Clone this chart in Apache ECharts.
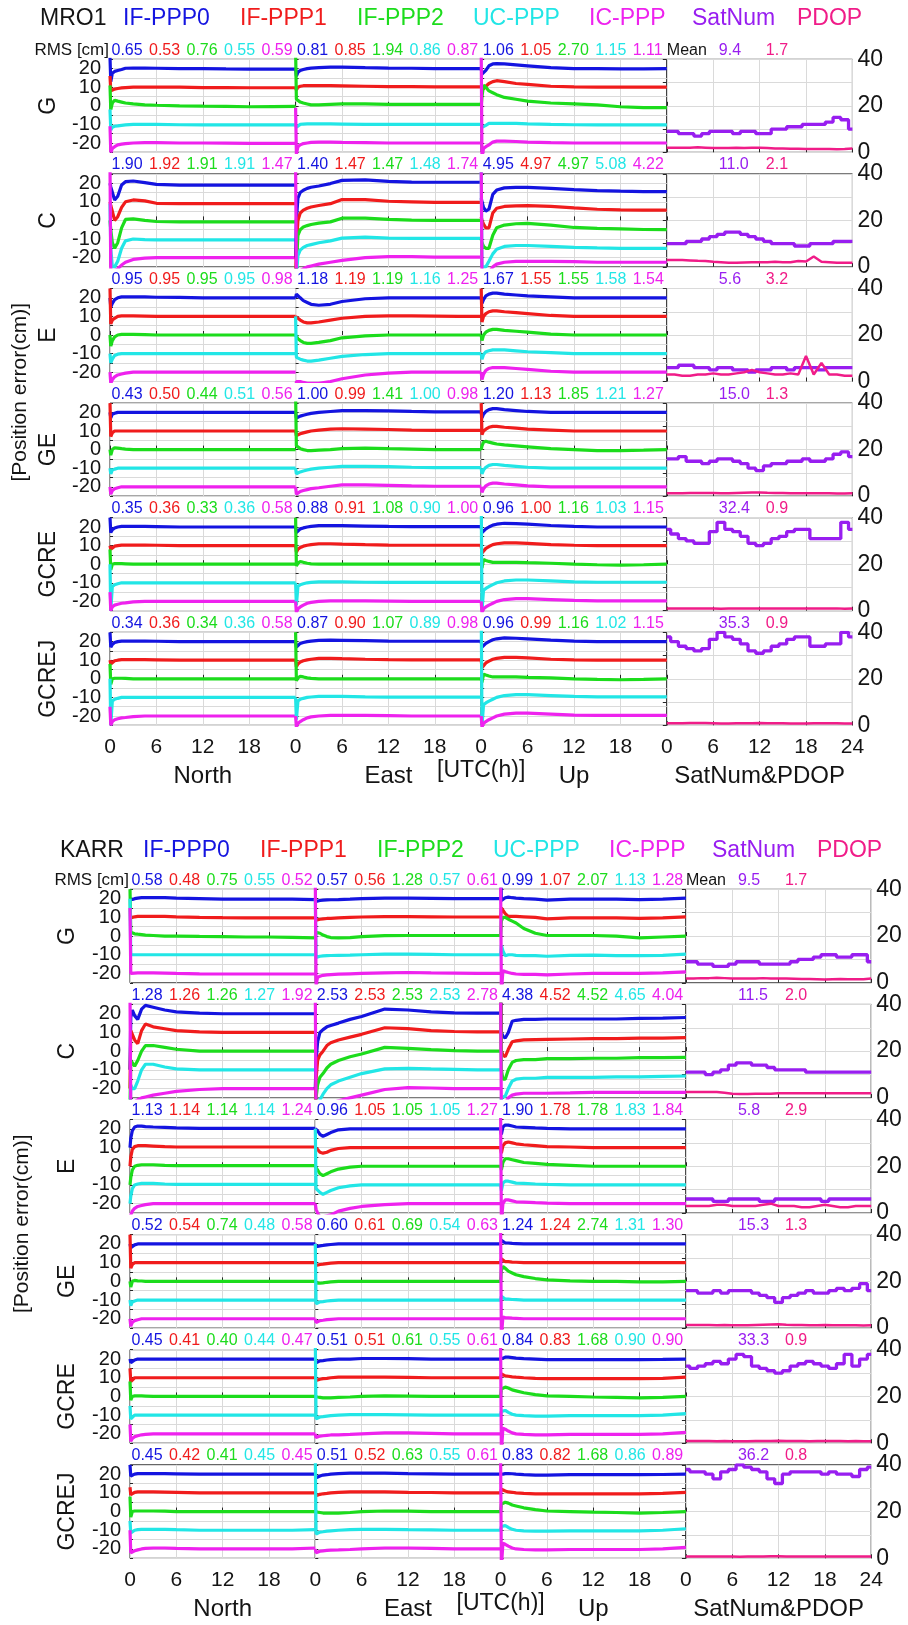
<!DOCTYPE html>
<html><head><meta charset="utf-8">
<script src="https://cdn.jsdelivr.net/npm/echarts@6/dist/echarts.min.js"></script>
<style>html,body{margin:0;padding:0;background:#fff}#c{width:908px;height:1625px}</style>
</head><body><div id="c"></div>
<script>
// ---------- shared axes / categories ----------
const T = [0,0.1,0.3,0.6,1,1.5,2,3,4.5,6,9,12,15,18,21,24];           // hours for error curves
const HOURS = [0,1,2,3,4,5,6,7,8,9,10,11,12,13,14,15,16,17,18,19,20,21,22,23,24];
const OFFSETS = [20,10,0,-10,-20];                                    // display shift of each method
const METHODS = ['IF-PPP0','IF-PPP1','IF-PPP2','UC-PPP','IC-PPP'];
const ROWS = ['G','C','E','GE','GCRE','GCREJ'];
const COMPONENTS = ['North','East','Up','SatNum&PDOP'];
const X_TICKS = [0,6,12,18,24];
const Y_TICKS = [-20,-10,0,10,20];
const SAT_TICKS = [0,20,40];

// ---------- MRO1 position errors (cm), lines: IF-PPP0, IF-PPP1, IF-PPP2, UC-PPP, IC-PPP ----------
const MRO1_G_N = [
 [6,-7,-2.5,-1.5,-1,-0.5,0.2,0.3,0.3,0.2,0,0,-0.2,-0.3,-0.3,-0.3],
 [6,-2,-1.5,-1,-0.7,-0.4,-0.2,0,0,0,0,-0.2,-0.2,-0.3,-0.3,-0.3],
 [11,-2,1.5,3,2.5,2,1.5,1,0.5,0.3,0,-0.2,-0.3,-0.5,-0.4,-0.3],
 [8,-3,-1.5,-1,-0.8,-0.5,-0.3,0,0,0,-0.2,-0.3,-0.3,-0.3,-0.3,-0.3],
 [9,-5,-3,-2,-1,-0.6,-0.3,0,0.2,0.2,0,0,-0.1,-0.2,-0.2,-0.2]];
const MRO1_G_E = [
 [0,-4,-2,-1,-0.5,0,0.3,0.5,0.8,0.8,0.5,0.3,0.2,0,0,0],
 [0,-1.5,0,0.5,0.8,0.8,0.8,0.8,0.8,0.7,0.5,0.3,0.3,0.2,0.2,0.2],
 [30,3.5,3,2,1.5,1,0.5,0.5,0.8,1,1,0.8,0.8,0.8,0.8,0.8],
 [0,-1.5,-0.5,0,0.2,0.3,0.3,0.3,0.3,0.2,0,0,0,0,0,0],
 [19,-6,-2,-1,-0.3,0,0.3,0.5,0.5,0.3,0.2,0,0,0,0,0]];
const MRO1_G_U = [
 [0,-3,-4,-1,1.5,2.5,2.7,2.5,2,1.5,0.5,0,0,-0.2,-0.1,0],
 [0,1,-1,0.5,2,3,3.5,3,2,1.5,0.5,0.2,0,0,0,0],
 [0,5,11,10,8,7,6,4.5,3.5,2.5,1.5,1,0.5,-0.5,-1,-1],
 [0,-1.5,-2,-0.5,0.5,0.5,0.5,0.5,0.5,0.3,0,-0.2,-0.3,-0.3,-0.3,-0.3],
 [50,-8,-3,-2,-1,0.5,1,1,0.8,0.5,0.2,0,0,0,0,0]];
const MRO1_C_N = [
 [0,-2,-3,-9,-7,-1,0.8,1.2,0.3,-0.6,-1,-1,-1,-1,-1,-1],
 [0,-2,-5,-10,-8,-3,0,1,0.5,-0.8,-1,-1,-1,-1,-1,-1],
 [0,-5,-12,-15,-12,-4,0.5,0.8,0,-0.6,-0.8,-0.8,-0.8,-0.8,-0.8,-0.8],
 [19,-5,-15,-15,-12,-5,-1,0,-0.3,-0.5,-0.5,-0.5,-0.5,-0.5,-0.5,-0.5],
 [50,-10,-8,-7,-6,-4,-2.5,-1,-0.3,0,0,0,0,0,0,0]];
const MRO1_C_E = [
 [-40,-20,-8,-5,-3.8,-2.8,-2.2,-1.5,-0.2,1.5,1.8,1,0.6,0.5,0.5,0.5],
 [-40,-25,-10,-6,-4.5,-3.5,-2.8,-2,-1,1.2,1.2,0.3,0,-0.3,-0.3,-0.3],
 [-40,-25,-8,-5,-3.5,-2.8,-2.2,-1.5,-0.8,1.2,1.2,0.5,0.2,0,0,0],
 [-40,-20,-9,-6,-4.5,-3.5,-3,-2,-1,0.5,1,0.5,0.3,0.3,0.3,0.3],
 [50,-10,-8,-7,-6,-5,-4.5,-3.5,-2.5,-1.5,0,0.5,0.5,0.3,0.3,0.3]];
const MRO1_C_U = [
 [-8,-10,-13,-15,-14,-6,-3.7,-2.5,-2.2,-2.2,-2.8,-3.5,-4,-4.3,-4.5,-4.5],
 [-8,-10,-12,-14,-14,-6,-3.5,-2.5,-2.2,-2.1,-2.5,-3.3,-4,-4.3,-4.5,-4.5],
 [-10,-12,-14,-15,-15,-8,-4,-2.5,-1.8,-1.6,-2.5,-3.8,-4.3,-4.6,-4.9,-5],
 [40,-15,-15,-15,-12,-8,-5.5,-4,-3.5,-3.5,-4,-4.5,-4.8,-5,-5,-5],
 [50,-10,-10,-10,-8,-5,-3.5,-2.5,-2,-2,-2,-2.2,-2.5,-2.5,-2.5,-2.5]];
const MRO1_E_N = [
 [0,-5,-3,-1,0,0.5,0.5,0.5,0.5,0.3,0.2,0,0,0,0,0],
 [15,-4,-2,-1,0,0.3,0.3,0.3,0.2,0,0,0,0,0,0,0],
 [0,-6,-3,-1,0,0.3,0.3,0.3,0.2,0,0,0,0,0,0,0],
 [0,-5,-3,-1,-0.3,0,0,0,0,0,0,0,0,0,0,0],
 [0,-6,-4,-2.5,-1.5,-1,-0.5,0,0,0,0,0,0,0,0,0]];
const MRO1_E_E = [
 [0,2,1,0,-1.5,-2.5,-3.5,-4,-3.5,-2,-0.5,0,0,0,0,0],
 [0,0,-1,-2,-3,-3.5,-3.5,-3,-2,-1,0,0.3,0.3,0.2,0,0],
 [0,-1,-2,-3,-4,-4.5,-4.5,-4,-3,-1.5,-0.5,0,0,0,0,0],
 [20,-2,-2.5,-3,-3.5,-4,-4,-3.5,-2.5,-1.5,-0.5,0,0,0,0,0],
 [-20,-5,-5,-5,-5.5,-6,-6,-6,-5,-3.5,-1.5,-0.5,0,0,0,0]];
const MRO1_E_U = [
 [0,-3,-1,1,2,2.5,2.5,2,1.5,1,0.5,0,0,0,0,0],
 [15,-3,0,1.5,2.5,3,3,2.5,2,1.5,0.5,0,0,0,0,0],
 [0,-3,0,1.5,2.5,3,3,2.5,2,1.5,0.5,0,0,0,0,0],
 [0,-3,-0.5,1,1.5,2,2,2,1.5,1,0.5,0,0,0,0,0],
 [0,-4,-1,1,2,2.5,2.5,2.5,2,1.5,0.5,0,0,0,0,0]];
const MRO1_GE_N = [
 [0,-3,-1,-0.5,0,0,0,0,0,0,0,0,0,0,0,0],
 [15,-3,-1,0,0,0,0,0,0,0,0,0,0,0,0,0],
 [0,-3,0,1,0.8,0.5,0.3,0,0,0,0,0,0,0,0,0],
 [0,-3,-1,-0.5,0,0,0,0,0,0,0,0,0,0,0,0],
 [0,-4,-2,-1,-0.5,0,0,0,0,0,0,0,0,0,0,0]];
const MRO1_GE_E = [
 [0,-3,-2.5,-2,-1.5,-1,-0.5,0,0.5,1,1,0.8,0.5,0.3,0.3,0.3],
 [0,-2.5,-2,-1.5,-1,-0.5,0,0.5,1,1.2,1,0.8,0.5,0.3,0.3,0.3],
 [30,2,1,0.5,0,-0.5,-0.5,-0.3,0,0.5,0.8,0.5,0.3,0,0,0],
 [0,-3,-2.5,-2,-1.5,-1,-0.5,0,0.5,1,1,0.8,0.5,0.3,0.3,0.3],
 [0,-4,-3,-2.5,-2,-1.5,-1,-0.5,0.3,1,1,0.8,0.5,0.3,0.3,0.3]];
const MRO1_GE_U = [
 [0,-3,-1,0.5,1.5,2,2,1.5,1,0.5,0,0,0,0,0,0],
 [15,-2,0,1,2,2.5,2.5,2,1.5,1,0.5,0,0,0,0,0],
 [0,2,4,4.5,4,3.5,3,2.5,2,1.5,0.5,0,-0.5,-0.5,-0.3,0],
 [0,-3,-1,0.5,1.5,2,2,1.5,1,0.5,0,0,0,0,0,0],
 [0,-3,-1,0.5,1.5,2,2,1.5,1,0.5,0,0,0,0,0,0]];
const MRO1_GCRE_N = [
 [5,-3,-1.5,-0.5,0,0.3,0.3,0.3,0.3,0.2,0,0,0,0,0,0],
 [0,-2,-1,-0.3,0,0.3,0.3,0.3,0.3,0.2,0,0,0,0,0,0],
 [8,-3,0,0.3,0.3,0.3,0.2,0,0,0,0,0,0,0,0,0],
 [10,-15,-2,-1,-0.5,0,0,0,0,0,0,0,0,0,0,0],
 [5,-5,-3,-2,-1.5,-1,-0.8,-0.3,0,0,0,0,0,0,0,0]];
const MRO1_GCRE_E = [
 [0,-3,-2,-1,-0.5,0,0.3,0.7,0.8,0.7,0.5,0.3,0.2,0.2,0.2,0.2],
 [0,-3.5,-2,-1,-0.3,0.2,0.5,1,1,0.8,0.5,0.3,0.2,0.2,0.2,0.2],
 [25,-1,0.5,1.5,1,0.5,0.2,0,0,0,0,0,0,0,0,0],
 [0,-12,-2,-1,-0.5,0,0.2,0.5,0.5,0.5,0.3,0.2,0.2,0.2,0.2,0.2],
 [0,-6,-4,-3,-2,-1,-0.5,0,0.3,0.3,0.3,0.2,0,0,0,0]];
const MRO1_GCRE_U = [
 [0,-3,-2.5,-1,0,1,1.5,2,1.8,1.5,0.8,0.3,0,0,0,0],
 [0,-4,-3,-1.5,-0.5,0.5,1,1.5,1.5,1.2,0.5,0.2,0,0,0,0],
 [0,-2,2.5,2,1.5,1,1,1,1,0.8,0.5,0,-0.3,-0.5,-0.3,0],
 [50,-15,-4,-3,-2,-1,0,1,1.5,1.5,1,0.5,0.3,0.3,0.3,0.3],
 [0,-6,-4,-3,-2,-1,0,1,1.5,1.5,1,0.5,0.3,0.3,0.3,0.3]];
const MRO1_GCREJ_N = [
 [5,-3,-1.5,-0.5,0,0.3,0.3,0.3,0.3,0.2,0,0,0,0,0,0],
 [0,-2,-1,-0.3,0,0.3,0.3,0.3,0.3,0.2,0,0,0,0,0,0],
 [8,-3,0,0.3,0.3,0.3,0.2,0,0,0,0,0,0,0,0,0],
 [10,-15,-2,-1,-0.5,0,0,0,0,0,0,0,0,0,0,0],
 [5,-5,-3,-2,-1.5,-1,-0.8,-0.3,0,0,0,0,0,0,0,0]];
const MRO1_GCREJ_E = [
 [0,-3,-2,-1,-0.5,0,0.3,0.7,0.8,0.7,0.5,0.3,0.2,0.2,0.2,0.2],
 [0,-3.5,-2,-1,-0.3,0.2,0.5,1,1,0.8,0.5,0.3,0.2,0.2,0.2,0.2],
 [25,-1,0.5,1.3,1,0.5,0.2,0,0,0,0,0,0,0,0,0],
 [0,-12,-2,-1,-0.5,0,0.2,0.5,0.5,0.5,0.3,0.2,0.2,0.2,0.2,0.2],
 [0,-6,-4,-3,-2,-1,-0.5,0,0.3,0.3,0.3,0.2,0,0,0,0]];
const MRO1_GCREJ_U = [
 [0,-3,-2.5,-1,0,1,1.5,2,1.8,1.5,0.8,0.3,0,0,0,0],
 [0,-4,-3,-1.5,-0.5,0.5,1,1.5,1.5,1.2,0.5,0.2,0,0,0,0],
 [0,-2,2.5,2,1.5,1,1,1,1,0.8,0.5,0,-0.3,-0.5,-0.3,0],
 [50,-15,-4,-3,-2,-1,0,1,1.5,1.5,1,0.5,0.3,0.3,0.3,0.3],
 [0,-6,-4,-3,-2,-1,0,1,1.5,1.5,1,0.5,0.3,0.3,0.3,0.3]];

// ---------- KARR position errors (cm) ----------
const KARR_G_N = [
 [0,0,-0.5,0,0.3,0.5,0.5,0.5,0.5,0.3,0,-0.3,-0.3,-0.3,-0.3,-0.5],
 [0,-0.5,0,0.3,0.5,0.5,0.5,0.5,0.5,0.3,0,-0.2,-0.3,-0.3,-0.3,-0.3],
 [25,2,1.5,1.2,1,0.8,0.5,0.3,0,0,-0.2,-0.3,-0.5,-0.5,-0.7,-1],
 [30,0,0,0,0,0,0,0,0,0,0,0,0,0,0,0],
 [35,0,0,0.2,0.3,0.3,0.3,0.3,0.2,0,-0.2,-0.3,-0.3,-0.3,-0.3,-0.3]];
const KARR_G_E = [
 [0,-1.5,-1.5,-1,-0.8,-0.7,-0.6,-0.5,-0.3,0,0.3,0.3,0.2,0,0,0],
 [0,-1.5,-1.5,-1,-0.8,-0.6,-0.5,-0.3,0,0.2,0.4,0.4,0.3,0.2,0.2,0.2],
 [0,2,2,1.5,0.5,-0.3,-0.8,-1,-0.8,-0.3,0.2,0.3,0.3,0.3,0.3,0.3],
 [30,-1.5,-1,-0.8,-0.6,-0.5,-0.4,-0.3,-0.2,0,0.3,0.3,0.2,0,0,0],
 [50,-6,-2,-1.5,-1,-0.8,-0.6,-0.4,-0.2,0,0.3,0.5,0.3,0.2,0,0]];
const KARR_G_U = [
 [25,-1,-1,0.5,0.8,0.5,0.3,0,-0.3,-0.8,-0.3,-0.2,-0.3,-0.5,-0.3,0.3],
 [0,5,5,2,0.5,0.5,0.5,0.3,0,-0.8,-0.3,-0.3,-0.3,-0.5,-0.3,0.3],
 [0,8,10,10,9,8,7,4,1.5,0.3,0.3,0.3,0,-1,-0.5,0],
 [0,5,2,-0.5,0,0,-0.3,-0.5,-0.5,-0.8,-0.3,-0.2,-0.5,-0.5,-0.3,0.3],
 [50,-10,1.5,1,0.5,0,-0.3,-0.5,-0.5,-0.8,-0.3,0,0,0,0.3,0.8]];
const KARR_C_N = [
 [-30,-2,2,-1,-3,2.5,4.5,3.5,2,1,0.3,0,0,0,0,0],
 [-30,1,0,-4,-6,1,4.5,3,2,1,0.3,0,0,0,0,0],
 [-30,-5,-6,-8,-5,0,3,3,2,1,0,0,0,0,0,0],
 [-30,-8,-10,-10,-6,0,3,3,1.5,0.5,0,0,0,0,0,0],
 [50,-10,-8,-7,-6,-5,-4.5,-3.5,-2.5,-1.5,-0.5,0,0,0,0,0]];
const KARR_C_E = [
 [-40,-25,-15,-10,-8.5,-7,-6.3,-5,-3,-1.5,2.5,2,1,0.5,0.3,0.3],
 [-40,-25,-15,-12,-10,-7,-5.5,-4,-2.5,-1,2.5,2,1,0.5,0.3,0.3],
 [-40,-25,-18,-14,-12,-9,-7,-5,-3,-1.5,2,1.5,0.8,0.3,0,0],
 [-40,-25,-20,-16,-13,-10,-8,-6,-4,-2,0.5,0.8,0.5,0.3,0,0],
 [50,-15,-15,-12,-10,-9,-8,-6.5,-5,-3.5,-0.5,0.5,0.3,0,0,0]];
const KARR_C_U = [
 [30,-10,-12,-13,-10,-4,-3.5,-3,-3,-2.8,-2.8,-2.8,-2.8,-2.5,-2.3,-2],
 [30,-10,-12,-13,-9,-5,-4.5,-4,-3.8,-3.7,-3.5,-3.3,-3.3,-3,-3,-2.8],
 [30,-10,-15,-15,-10,-6,-5,-4.5,-4.5,-4,-4,-3.8,-3.8,-3.5,-3.5,-3.3],
 [-40,-15,-15,-14,-10,-6,-5,-4.5,-4.5,-4,-4,-4,-3.8,-3.8,-3.5,-3.3],
 [50,-15,-10,-8,-5,-3.5,-3,-2.5,-2.5,-2.5,-2.3,-2,-2,-2,-2,-2]];
const KARR_E_N = [
 [-10,-5,-1,1,1.5,1.5,1.2,1,0.8,0.5,0.3,0.3,0.3,0.3,0.3,0.3],
 [-10,-5,-1,0.5,1,1,1,0.8,0.5,0.3,0.3,0.3,0.3,0.3,0.3,0.3],
 [-10,-6,-2,0,0.5,0.8,0.8,0.8,0.5,0.3,0.3,0.3,0.3,0.3,0.3,0.3],
 [-10,-6,-2,0,0.5,0.8,0.8,0.8,0.5,0.3,0.3,0.3,0.3,0.3,0.3,0.3],
 [-10,-6,-4,-2.5,-1.5,-1,-0.5,0,0,0,0,0,0,0,0,0]];
const KARR_E_E = [
 [0,1,-1,-3,-4,-3,-2,-0.5,0,0,0,0,0,0,0,0],
 [0,1,-1,-2.5,-3,-2.5,-1.5,-0.5,0,0,0,0,0,0,0,0],
 [0,0,-2,-4,-5,-4,-3,-1.5,-0.5,0,0,0,0,0,0,0],
 [30,-2,-3,-4,-5,-4,-3,-1.5,-0.5,0,0,0,0,0,0,0],
 [0,-3,-5,-7,-7,-6.5,-6,-4,-2.5,-1.5,-0.5,0,0,0,0,0]];
const KARR_E_U = [
 [0,-3,1,2,2,1.5,1,0.8,0.5,0.3,0,0,0,0,0,0],
 [0,-3,1,2.5,3,2.5,2,1.5,1,0.5,0.3,0,0,0,0,0],
 [0,-2,2,4,4,3.5,3,2,1.5,1,0.5,0,0,0,0,0],
 [0,-3,1,2,2,1.5,1,0.8,0.5,0.3,0,0,0,0,0,0],
 [50,-10,0,2,2,1.5,1,0.8,0.5,0.3,0,0,0,0,0,0]];
const KARR_GE_N = [
 [0,-2,-1,-0.5,0,0,0,0,0,0,0,0,0,0,0,0],
 [15,-3,-1,0,0,0,0,0,0,0,0,0,0,0,0,0],
 [0,-3,0,0.5,0.3,0.2,0,0,0,0,0,0,0,0,0,0],
 [0,-3,-1,-0.5,0,0,0,0,0,0,0,0,0,0,0,0],
 [0,-4,-2,-1,-0.5,0,0,0,0,0,0,0,0,0,0,0]];
const KARR_GE_E = [
 [0,-1.5,-1,-1,-0.8,-0.5,-0.3,0,0,0,0,0,0,0,0,0],
 [0,-1.5,-1,-1,-0.8,-0.5,-0.3,0,0,0,0,0,0,0,0,0],
 [0,-1,-1,-1,-0.8,-0.5,-0.3,0,0,0,0,0,0,0,0,0],
 [30,-2,-1.5,-1,-0.8,-0.5,-0.3,0,0,0,0,0,0,0,0,0],
 [0,-2,-1.5,-1,-0.8,-0.5,-0.3,0,0,0,0,0,0,0,0,0]];
const KARR_GE_U = [
 [0,2,1,0.5,0.5,0.3,0.2,0,0,0,0,0,0,0,0,0],
 [0,2,1,0.5,0.5,0.3,0.2,0,0,0,0,0,0,0,0,0],
 [0,6,8,7,5.5,4.5,3.5,2.5,1.5,0.8,0.3,0,0,-0.3,-0.3,0],
 [0,2,1,0.5,0.5,0.3,0.2,0,0,0,0,0,0,0,0,0],
 [50,-10,1,0.5,0.5,0.3,0.2,0,0,0,0,0,0,0,0,0]];
const KARR_GCRE_N = [
 [0,-2,-1,-0.5,0,0,0,0,0,0,0,0,0,0,0,0],
 [5,-2,-1,0,0,0,0,0,0,0,0,0,0,0,0,0],
 [8,-2,0,0.3,0.3,0.3,0.2,0,0,0,0,0,0,0,0,0],
 [5,-2,-1,0,0,0,0,0,0,0,0,0,0,0,0,0],
 [5,-4,-2.5,-1.5,-1,-0.5,-0.3,0,0,0,0,0,0,0,0,0]];
const KARR_GCRE_E = [
 [0,-2,-1.5,-1,-0.8,-0.5,-0.3,0,0,0.3,0.3,0.2,0,0,0,0],
 [0,-1.5,-1,-0.8,-0.5,-0.3,0,0.3,0.3,0.3,0.3,0.2,0,0,0,0],
 [0,0,-0.3,-0.5,-0.8,-0.8,-0.8,-0.5,-0.3,0,0.3,0.2,0,0,0,0],
 [40,-2,-1.5,-1,-0.8,-0.5,-0.3,0,0.3,0.3,0.3,0.2,0,0,0,0],
 [0,-2,-1.5,-1.2,-1,-0.8,-0.6,-0.5,-0.3,0,0.5,0.5,0.3,0,0,0]];
const KARR_GCRE_U = [
 [0,-1,0.5,1,1,0.8,0.5,0.2,0,-0.3,-0.3,-0.3,-0.3,-0.3,-0.2,0],
 [0,2,1.5,1,0.8,0.5,0.3,0,-0.3,-0.5,-0.5,-0.5,-0.5,-0.5,-0.3,0.3],
 [0,4,5,5,4.5,3.5,3,2,1,0.3,0,-0.3,-0.5,-0.8,-0.5,0],
 [0,2,3,2.5,1.5,0.5,0,-0.3,-0.5,-0.5,-0.3,-0.3,-0.3,-0.3,0,0.8],
 [50,-10,3,2.5,1.5,0.5,0,-0.3,-0.5,-0.5,-0.3,-0.3,-0.3,-0.3,0,0.8]];
const KARR_GCREJ_N = [
 [5,-1,-0.5,0,0.3,0.3,0.3,0.3,0.3,0.2,0,0,0,0,0,0],
 [3,-1,0,0.3,0.5,0.5,0.5,0.5,0.4,0.3,0,0,0,0,0,0],
 [8,-3,0,0.3,0.3,0.3,0.3,0.3,0.2,0,0,0,0,0,0,0],
 [5,-1.5,-0.5,0,0.3,0.5,0.5,0.5,0.5,0.3,0,0,0,0,0,0.3],
 [10,-2,-1.5,-1,-0.5,0,0.3,0.5,0.5,0.3,0,0,0,0,0,0.5]];
const KARR_GCREJ_E = [
 [0,-2,-1.5,-1,-0.5,-0.3,0,0.3,0.5,0.5,0.5,0.3,0.2,0,0,0],
 [0,-1.5,-1,-0.8,-0.5,-0.3,0,0.3,0.5,0.5,0.5,0.3,0.2,0,0,0],
 [0,0,-0.3,-0.5,-0.8,-0.8,-0.8,-0.8,-0.5,0,0.3,0.2,0,0,0,0],
 [40,-2,-1.5,-1,-0.8,-0.5,-0.3,0,0.3,0.5,0.5,0.3,0.2,0,0,0],
 [0,-2,-1.5,-1.2,-1,-0.8,-0.6,-0.5,-0.3,0,0.5,0.5,0.3,0,0,0]];
const KARR_GCREJ_U = [
 [0,-1,0,0.3,0.3,0.2,0,-0.3,-0.5,-0.5,-0.3,-0.3,-0.3,-0.3,-0.2,0],
 [0,2,1.5,1,0.5,0.3,0,-0.3,-0.5,-0.5,-0.5,-0.5,-0.5,-0.5,-0.3,0.3],
 [0,4,5,5,4.5,3.5,3,2,1,0.3,0,-0.3,-0.5,-0.8,-0.5,0],
 [0,2,3,2.5,1.5,0.5,0,-0.3,-0.5,-0.5,-0.3,-0.3,-0.3,-0.3,0,0.8],
 [50,-10,3,2.5,1.5,0.5,0,-0.3,-0.5,-0.5,-0.3,-0.3,-0.3,-0.3,0,0.8]];

// ---------- satellite number and PDOP (hourly), rows G..GCREJ ----------
const MRO1_SATNUM = [
 [9,9,8,8,7,8,9,9,9,8,9,9,8,8,10,10,11,11,12,12,12,13,15,14,10],
 [10,10,10,11,11,12,13,14,15,15,14,13,12,11,10,10,10,9,9,10,10,10,11,11,11],
 [6,6,7,7,6,6,5,6,6,5,5,4,5,5,6,6,5,6,6,6,5,6,6,6,6],
 [16,16,17,15,15,14,15,16,16,15,14,12,11,13,14,14,15,15,16,15,15,16,18,19,17],
 [35,33,31,30,29,29,34,38,35,34,32,29,28,29,31,32,34,35,35,31,31,31,31,38,35],
 [38,36,34,33,32,33,37,40,38,37,35,32,31,32,34,35,37,38,38,34,34,35,35,40,38]];
const MRO1_PDOP = [
 [2,2,2,2,2.2,2,1.8,1.8,1.8,2,1.8,2,2,1.8,1.6,1.6,1.5,1.5,1.4,1.4,1.4,1.4,1.3,1.4,1.6],
 [3,3,3,2.8,2.6,2.5,2.2,2,1.8,1.8,1.9,2,2,2,2.2,2,2,2.5,2.3,4.5,2.2,2,1.8,1.8,1.8],
 [3,3,2.5,2.5,3,3,3.5,3,3,3.5,4,5,4,3.5,3,3,3.5,3,11,3,8,3,3,2.5,2.5],
 [1.2,1.2,1.2,1.3,1.3,1.3,1.3,1.2,1.2,1.3,1.4,1.5,1.6,1.4,1.3,1.3,1.2,1.2,1.2,1.2,1.2,1.2,1.1,1.1,1.2],
 [0.9,0.9,1,1,1,1,0.9,0.8,0.9,0.9,0.9,1,1,1,0.9,0.9,0.9,0.9,0.9,1,1,1,1,0.8,0.9],
 [0.9,0.9,0.9,1,1,1,0.9,0.8,0.8,0.9,0.9,0.9,1,0.9,0.9,0.9,0.8,0.8,0.8,0.9,0.9,0.9,0.9,0.8,0.8]];
const KARR_SATNUM = [
 [9,9,8,8,7,7,8,9,9,9,8,8,8,8,9,10,10,11,12,12,11,11,12,12,9],
 [11,11,11,10,11,12,14,15,15,14,14,13,12,12,12,12,11,11,11,11,11,11,11,11,11],
 [6,6,6,6,5,5,6,6,6,6,5,5,6,6,6,6,6,6,5,6,6,6,6,6,6],
 [16,16,15,15,16,15,16,16,16,15,14,13,11,13,14,15,16,15,15,16,17,16,17,19,16],
 [33,32,33,34,35,34,36,38,37,33,32,31,30,31,33,34,35,34,33,32,34,38,33,36,38],
 [38,37,37,36,34,37,38,40,39,38,37,34,32,36,37,37,37,37,36,37,36,36,35,38,39]];
const KARR_PDOP = [
 [1.8,1.8,2,2,2.2,2,1.8,1.8,1.8,1.8,2,1.8,1.8,1.8,1.7,1.6,1.6,1.5,1.4,1.5,1.6,1.5,1.5,1.5,1.8],
 [2.5,2.5,2.5,2.5,2.5,2.2,1.8,1.7,1.7,1.8,1.8,1.8,2,2,2,2,2,2,2,2,2,2,2,2,2],
 [3,3,3,3,3.5,3.5,3,3,3,3,3.5,4,3,3,3,2.5,2.5,3,3.5,3,2.5,2.5,3,3,3],
 [1.3,1.3,1.3,1.3,1.2,1.3,1.2,1.2,1.2,1.3,1.4,1.5,1.6,1.4,1.3,1.3,1.2,1.2,1.3,1.2,1.2,1.2,1.2,1.1,1.2],
 [0.9,0.9,0.9,0.9,0.8,0.9,0.8,0.8,0.8,0.9,0.9,0.9,1,0.9,0.9,0.9,0.8,0.9,0.9,0.9,0.9,0.8,0.9,0.8,0.8],
 [0.8,0.8,0.8,0.8,0.8,0.8,0.8,0.7,0.8,0.8,0.8,0.9,0.9,0.8,0.8,0.8,0.8,0.8,0.8,0.8,0.8,0.8,0.8,0.8,0.8]];

// ---------- RMS texts [row][component][method] and means [row][satnum,pdop] ----------
const MRO1_RMS = [
 [['0.65','0.53','0.76','0.55','0.59'],['0.81','0.85','1.94','0.86','0.87'],['1.06','1.05','2.70','1.15','1.11']],
 [['1.90','1.92','1.91','1.91','1.47'],['1.40','1.47','1.47','1.48','1.74'],['4.95','4.97','4.97','5.08','4.22']],
 [['0.95','0.95','0.95','0.95','0.98'],['1.18','1.19','1.19','1.16','1.25'],['1.67','1.55','1.55','1.58','1.54']],
 [['0.43','0.50','0.44','0.51','0.56'],['1.00','0.99','1.41','1.00','0.98'],['1.20','1.13','1.85','1.21','1.27']],
 [['0.35','0.36','0.33','0.36','0.58'],['0.88','0.91','1.08','0.90','1.00'],['0.96','1.00','1.16','1.03','1.15']],
 [['0.34','0.36','0.34','0.36','0.58'],['0.87','0.90','1.07','0.89','0.98'],['0.96','0.99','1.16','1.02','1.15']]];
const MRO1_MEAN = [['9.4','1.7'],['11.0','2.1'],['5.6','3.2'],['15.0','1.3'],['32.4','0.9'],['35.3','0.9']];
const KARR_RMS = [
 [['0.58','0.48','0.75','0.55','0.52'],['0.57','0.56','1.28','0.57','0.61'],['0.99','1.07','2.07','1.13','1.28']],
 [['1.28','1.26','1.26','1.27','1.92'],['2.53','2.53','2.53','2.53','2.78'],['4.38','4.52','4.52','4.65','4.04']],
 [['1.13','1.14','1.14','1.14','1.24'],['0.96','1.05','1.05','1.05','1.27'],['1.90','1.78','1.78','1.83','1.84']],
 [['0.52','0.54','0.74','0.48','0.58'],['0.60','0.61','0.69','0.54','0.63'],['1.24','1.24','2.74','1.31','1.30']],
 [['0.45','0.41','0.40','0.44','0.47'],['0.51','0.51','0.61','0.55','0.61'],['0.84','0.83','1.68','0.90','0.90']],
 [['0.45','0.42','0.41','0.45','0.45'],['0.51','0.52','0.63','0.55','0.61'],['0.83','0.82','1.68','0.86','0.89']]];
const KARR_MEAN = [['9.5','1.7'],['11.5','2.0'],['5.8','2.9'],['15.3','1.3'],['33.3','0.9'],['36.2','0.8']];

// ---------- styling / layout ----------
const COLORS = ['#1414e0','#f01c1c','#1cdc1c','#22e6e6','#ee22ee'];
const SAT_COLOR = '#981ef0', PDOP_COLOR = '#f01c88';
const INK = '#141414';
const FONT = '"Liberation Sans", Arial, Helvetica, sans-serif';
const TITLE_DX = [-70,13,130,247,363,479,582,687];

const STATIONS = [
 {name:'MRO1', rms:MRO1_RMS, mean:MRO1_MEAN, sat:MRO1_SATNUM, pdop:MRO1_PDOP,
  err:[[MRO1_G_N,MRO1_G_E,MRO1_G_U],[MRO1_C_N,MRO1_C_E,MRO1_C_U],[MRO1_E_N,MRO1_E_E,MRO1_E_U],
       [MRO1_GE_N,MRO1_GE_E,MRO1_GE_U],[MRO1_GCRE_N,MRO1_GCRE_E,MRO1_GCRE_U],[MRO1_GCREJ_N,MRO1_GCREJ_E,MRO1_GCREJ_U]],
  L:{x0:110, colW:185.6, y0:59.3, pitch:114.6, h:93, titleY:19, rowLabelX:49, ylabX:20}},
 {name:'KARR', rms:KARR_RMS, mean:KARR_MEAN, sat:KARR_SATNUM, pdop:KARR_PDOP,
  err:[[KARR_G_N,KARR_G_E,KARR_G_U],[KARR_C_N,KARR_C_E,KARR_C_U],[KARR_E_N,KARR_E_E,KARR_E_U],
       [KARR_GE_N,KARR_GE_E,KARR_GE_U],[KARR_GCRE_N,KARR_GCRE_E,KARR_GCRE_U],[KARR_GCREJ_N,KARR_GCREJ_E,KARR_GCREJ_U]],
  L:{x0:130, colW:185.3, y0:889.3, pitch:115.1, h:93.5, titleY:851, rowLabelX:68, ylabX:22}}
];

function txt(x, y, text, size, color, align, rot) {
  align = align || 'left';
  return {type:'text', x:x, y:y, rotation:rot||0, silent:true, z:100,
    style:{text:text, font: size + 'px ' + FONT, fill:color, align:align, verticalAlign:'middle',
           textAlign:align, textVerticalAlign:'middle'}};
}

const grids=[], xAxes=[], yAxes=[], series=[], graphics=[];
STATIONS.forEach(function(st){
  const L = st.L;
  const titleItems = [st.name].concat(METHODS, ['SatNum','PDOP']);
  const titleColors = [INK].concat(COLORS, [SAT_COLOR, PDOP_COLOR]);
  TITLE_DX.forEach(function(dx,i){ graphics.push(txt(L.x0+dx, L.titleY, titleItems[i], 23, titleColors[i])); });
  ROWS.forEach(function(row, r){
    const top = L.y0 + r*L.pitch;
    const isBottom = r === ROWS.length-1;
    graphics.push(txt(L.rowLabelX, top + L.h/2, row, 23, INK, 'center', Math.PI/2));
    if (r===0) graphics.push(txt(L.x0-1, top-9, 'RMS [cm]', 17, INK, 'right'));
    for (let c=0;c<4;c++){
      const left = L.x0 + c*L.colW;
      const gi = grids.length;
      const isSat = c===3;
      grids.push({left:left, top:top, width:L.colW, height:L.h, show:true, borderColor:'#262626', borderWidth:1,
                  backgroundColor:'#ffffff', containLabel:false, outerBoundsMode:'none'});
      xAxes.push({type:'value', gridIndex:gi, min:0, max:24, interval:6,
        axisLine:{show:false},
        axisTick:{show:true, inside:true, length:4, lineStyle:{color:'#262626'}},
        splitLine:{show:true, lineStyle:{color:'#dadada', width:1, type:'solid'}},
        axisLabel:{show:isBottom, margin:11, fontSize:21, fontFamily:FONT, color:INK,
          showMinLabel:true, showMaxLabel:true,
          formatter:function(v){ return X_TICKS.indexOf(v)>=0 && (isSat || v!==24) ? String(v) : ''; }}});
      if (!isSat) {
        yAxes.push({type:'value', gridIndex:gi, min:-25, max:25, interval:5,
          axisLine:{show:false},
          axisTick:{show:true, inside:true, length:3, lineStyle:{color:'#262626'}},
          splitLine:{show:true, lineStyle:{color:'#dadada', width:1, type:'solid'}},
          axisLabel:{show:c===0, margin:9, fontSize:20, fontFamily:FONT, color:INK,
            showMinLabel:true, showMaxLabel:true,
            formatter:function(v){ return Y_TICKS.indexOf(v)>=0 ? String(v) : ''; }}});
        const err = st.err[r][c];
        err.forEach(function(e,k){
          series.push({type:'line', xAxisIndex:gi, yAxisIndex:gi, clip:true, silent:true,
            symbol:'none', showSymbol:false, animation:false,
            lineStyle:{width:3.2, color:COLORS[k]}, itemStyle:{color:COLORS[k]},
            data: T.map(function(t,i){ return [t, OFFSETS[k] + e[i]]; })});
        });
        st.rms[r][c].forEach(function(v,k){ graphics.push(txt(left+1.5+k*37.5, top-9, v, 16, COLORS[k])); });
      } else {
        yAxes.push({type:'value', gridIndex:gi, position:'right', min:0, max:40, interval:10,
          axisLine:{show:false},
          axisTick:{show:true, inside:true, length:4, lineStyle:{color:'#262626'}},
          splitLine:{show:true, lineStyle:{color:'#dadada', width:1, type:'solid'}},
          axisLabel:{show:true, margin:5, fontSize:23, fontFamily:FONT, color:INK,
            showMinLabel:true, showMaxLabel:true,
            formatter:function(v){ return SAT_TICKS.indexOf(v)>=0 ? String(v) : ''; }}});
        series.push({type:'line', xAxisIndex:gi, yAxisIndex:gi, clip:true, silent:true, symbol:'none', animation:false,
          step:'middle',
          lineStyle:{width:3.3, color:SAT_COLOR}, itemStyle:{color:SAT_COLOR},
          data: HOURS.map(function(h,i){ return [h, st.sat[r][i]]; })});
        series.push({type:'line', xAxisIndex:gi, yAxisIndex:gi, clip:true, silent:true, symbol:'none', animation:false,
          lineStyle:{width:2.5, color:PDOP_COLOR}, itemStyle:{color:PDOP_COLOR},
          data: HOURS.map(function(h,i){ return [h, st.pdop[r][i]]; })});
        if (r===0) graphics.push(txt(left, top-9, 'Mean', 16, INK));
        graphics.push(txt(left+52, top-9, st.mean[r][0], 16, SAT_COLOR));
        graphics.push(txt(left+99, top-9, st.mean[r][1], 16, PDOP_COLOR));
      }
    }
  });
  const bottomY = L.y0 + 5*L.pitch + L.h;
  COMPONENTS.forEach(function(n,c){ graphics.push(txt(L.x0 + c*L.colW + L.colW/2, bottomY+51, n, 24, INK, 'center')); });
  graphics.push(txt(L.x0 + 2*L.colW, bottomY+45, '[UTC(h)]', 23, INK, 'center'));
  graphics.push(txt(L.ylabX, L.y0 + (5*L.pitch+L.h)/2, '[Position error(cm)]', 21, INK, 'center', Math.PI/2));
});

const chart = echarts.init(document.getElementById('c'), null, {renderer:'canvas'});
chart.setOption({
  animation:false, backgroundColor:'#ffffff',
  grid:grids, xAxis:xAxes, yAxis:yAxes, series:series,
  graphic:{elements:graphics}
});
</script>
</body></html>
